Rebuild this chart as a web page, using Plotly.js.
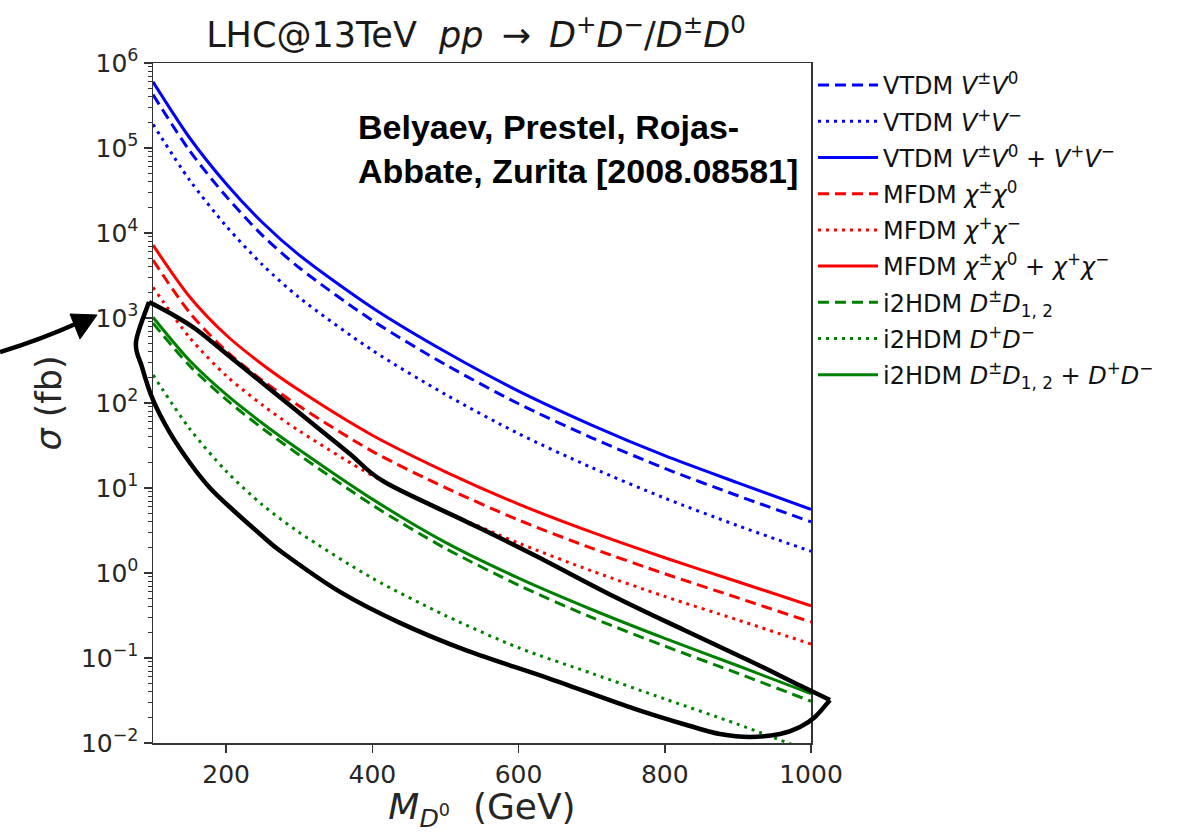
<!DOCTYPE html>
<html><head><meta charset="utf-8">
<script src="https://cdn.plot.ly/plotly-3.0.1.min.js"></script>
<style>html,body{margin:0;padding:0;background:#fff}#chart{width:1179px;height:833px}</style>
</head><body><div id="chart"></div>
<script>
// ---- data (σ in fb vs M_D0 in GeV) ----
const massGeV = [100,150,200,250,300,400,500,600,700,800,900,1000];

const vtdmChargedNeutral = [4.25e5,9.3e4,2.7e4,9.3e3,3.9e3,935,283,98,39,17,8.1,4.0];
const vtdmChargedPair    = [1.9e5,4.2e4,1.21e4,4.2e3,1.74e3,417,126,43.6,17.4,7.6,3.6,1.8];
const vtdmTotal          = [6.0e5,1.32e5,3.8e4,1.32e4,5.5e3,1.32e3,400,138,55,24,11.5,5.6];

const mfdmChargedNeutral = [4.8e3,1.16e3,410,183,92,27,10.1,4.2,1.96,0.98,0.51,0.265];
const mfdmChargedPair    = [2.3e3,590,210,94,47,14,5.3,2.25,1.06,0.53,0.28,0.146];
const mfdmTotal          = [7.2e3,1.78e3,631,282,141,41.7,15.5,6.46,3.02,1.51,0.79,0.41];

const i2hdmChargedNeutral = [871,275,110,50,24.5,6.3,1.95,0.72,0.30,0.138,0.066,0.031];
const i2hdmChargedPair    = [214,50,15.8,6.3,3.0,0.87,0.316,0.132,0.066,0.033,0.0166,0.0079];
const i2hdmTotal          = [1020,316,126,57.5,28.2,7.4,2.29,0.87,0.372,0.17,0.081,0.038];

const seriesNames = [
  'VTDM <i>V</i><sup>±</sup><i>V</i><sup>0</sup>',
  'VTDM <i>V</i><sup>+</sup><i>V</i><sup>−</sup>',
  'VTDM <i>V</i><sup>±</sup><i>V</i><sup>0</sup> + <i>V</i><sup>+</sup><i>V</i><sup>−</sup>',
  'MFDM <i>χ</i><sup>±</sup><i>χ</i><sup>0</sup>',
  'MFDM <i>χ</i><sup>+</sup><i>χ</i><sup>−</sup>',
  'MFDM <i>χ</i><sup>±</sup><i>χ</i><sup>0</sup> + <i>χ</i><sup>+</sup><i>χ</i><sup>−</sup>',
  'i2HDM <i>D</i><sup>±</sup><i>D</i><sub>1, 2</sub>',
  'i2HDM <i>D</i><sup>+</sup><i>D</i><sup>−</sup>',
  'i2HDM <i>D</i><sup>±</sup><i>D</i><sub>1, 2</sub> + <i>D</i><sup>+</sup><i>D</i><sup>−</sup>'
];

const yTickVals  = [1e-2,1e-1,1e0,1e1,1e2,1e3,1e4,1e5,1e6];
const yTickText  = ['10<sup>−2</sup>','10<sup>−1</sup>','10<sup>0</sup>','10<sup>1</sup>','10<sup>2</sup>','10<sup>3</sup>','10<sup>4</sup>','10<sup>5</sup>','10<sup>6</sup>'];
const xTickVals  = [200,400,600,800,1000];

// hand-drawn highlight contour (annotation), in (GeV, fb)
const contourUpperMass  = [94.53,130.09,160.18,209.42,255.93,324.32,369.45,417.33,529.48,621.13,731.91,826.29,917.93,984.95,1025.98];
const contourUpperSigma = [1542,1056,722.5,327,155.6,51.9,25.2,11.67,3.99,1.63,0.522,0.2134,0.0910,0.0474,0.0321];
const contourLowerMass  = [1025.98,1005.46,984.95,957.60,916.57,875.53,834.50,757.91,643.0,529.48,437.84,355.77,277.81,246.35,209.42,177.96,150.61,123.25,100.0,84.95,76.75,94.53];
const contourLowerSigma = [0.0321,0.02022,0.01542,0.01276,0.01176,0.01276,0.01585,0.02540,0.05700,0.1220,0.2590,0.5990,1.719,2.876,5.51,10.0,19.68,44.4,108.5,265.2,521.9,1542];

// ---- styling ----
const BLUE='#0000ff', RED='#ff0000', GREEN='#008000';
const DASH='11px,6px', DOT='3px,5px';
const styles = [
  [BLUE,DASH],[BLUE,DOT],[BLUE,'solid'],
  [RED,DASH],[RED,DOT],[RED,'solid'],
  [GREEN,DASH],[GREEN,DOT],[GREEN,'solid']
];
const seriesData = [vtdmChargedNeutral,vtdmChargedPair,vtdmTotal,mfdmChargedNeutral,mfdmChargedPair,mfdmTotal,i2hdmChargedNeutral,i2hdmChargedPair,i2hdmTotal];

const traces = seriesData.map((ys,i)=>({
  x: massGeV, y: ys, type:'scatter', mode:'lines', name: seriesNames[i],
  legendgroup: 'g'+i,
  line:{color:styles[i][0], dash:styles[i][1], width:3, shape:'spline', smoothing:0.8}
}));

const XMIN=100, XMAX=1000, LMIN=-2, LMAX=6;
function toPaper(m,s){ return [(m-XMIN)/(XMAX-XMIN), (Math.log10(s)-LMIN)/(LMAX-LMIN)]; }
function smoothPath(ms, ss){
  const p = ms.map((m,i)=>toPaper(m,ss[i]));
  let d = 'M'+p[0][0].toFixed(5)+','+p[0][1].toFixed(5);
  for(let i=0;i<p.length-1;i++){
    const p0 = p[Math.max(0,i-1)], p1=p[i], p2=p[i+1], p3=p[Math.min(p.length-1,i+2)];
    const c1=[p1[0]+(p2[0]-p0[0])/6, p1[1]+(p2[1]-p0[1])/6];
    const c2=[p2[0]-(p3[0]-p1[0])/6, p2[1]-(p3[1]-p1[1])/6];
    d += ' C'+c1[0].toFixed(5)+','+c1[1].toFixed(5)+' '+c2[0].toFixed(5)+','+c2[1].toFixed(5)+' '+p2[0].toFixed(5)+','+p2[1].toFixed(5);
  }
  return d;
}

// minor log ticks
const minorVals=[];
for(let k=LMIN;k<LMAX;k++){ for(let m=2;m<=9;m++) minorVals.push(m*Math.pow(10,k)); }

// plot geometry (px)
const W=1179,H=833,ML=153,MR=368,MT=63,MB=90;
const PW=W-ML-MR, PH=H-MT-MB;
function pxToPaper(px,py){ return [(px-ML)/PW, (H-MB-py)/PH]; }
const arrowStart = pxToPaper(0,352), arrowCtrl = pxToPaper(40,340), arrowEnd = pxToPaper(80,322);
const headTip = pxToPaper(97,315), headA = pxToPaper(70,314), headB = pxToPaper(80,339);

const FONT='DejaVu Sans';
const TS='\u2009';
const layout = {
  width:W, height:H,
  margin:{l:ML,r:MR,t:MT,b:MB,autoexpand:false},
  paper_bgcolor:'#fff', plot_bgcolor:'#fff',
  font:{family:FONT, color:'#262626'},
  title:{text:'LHC@13TeV  <i>pp</i> '+TS+'→'+TS+' <i>D</i><sup>+</sup><i>D</i><sup>−</sup>/<i>D</i><sup>±</sup><i>D</i><sup>0</sup>',
    font:{family:FONT,size:35,color:'#1a1a1a'}, x:(476-ML)/PW, xref:'paper', xanchor:'center', y:1-35/H, yref:'container', yanchor:'middle'},
  xaxis:{type:'linear', range:[XMIN,XMAX], tickvals:xTickVals, ticks:'outside', ticklen:8, tickwidth:1.5, tickcolor:'#333',
    showline:true, linecolor:'#333', linewidth:1.5, mirror:true, showgrid:false, zeroline:false,
    tickfont:{family:FONT,size:25,color:'#262626'},
    title:{text:'<i>M</i><sub><i>D</i><sup>0</sup></sub>  (GeV)', font:{family:FONT,size:36,color:'#262626'}, standoff:4}},
  yaxis:{type:'log', range:[LMIN,LMAX], tickmode:'array', tickvals:yTickVals, ticktext:yTickText, ticks:'outside', ticklen:8, tickwidth:1.5, tickcolor:'#333',
    minor:{tickmode:'array', tickvals:minorVals, ticks:'outside', ticklen:4, tickwidth:1, tickcolor:'#333', showgrid:false},
    showline:true, linecolor:'#333', linewidth:1.5, mirror:true, showgrid:false, zeroline:false,
    tickfont:{family:FONT,size:25,color:'#262626'},
    title:{text:'<i>σ</i> (fb)', font:{family:FONT,size:35,color:'#262626'}, standoff:8}},
  legend:{x:1.003, xanchor:'left', y:1.0, yanchor:'top', bgcolor:'rgba(0,0,0,0)', borderwidth:0,
    font:{family:FONT,size:24,color:'#111'}, tracegroupgap:2, itemwidth:60},
  shapes:[
    {type:'path', xref:'paper', yref:'paper', path: smoothPath(contourUpperMass,contourUpperSigma), line:{color:'#000',width:4.5}},
    {type:'path', xref:'paper', yref:'paper', path: smoothPath(contourLowerMass,contourLowerSigma), line:{color:'#000',width:4.5}},
    {type:'path', xref:'paper', yref:'paper', path:'M'+arrowStart.join(',')+' Q'+arrowCtrl.join(',')+' '+arrowEnd.join(','), line:{color:'#000',width:4.5}},
    {type:'path', xref:'paper', yref:'paper', path:'M'+headTip.join(',')+' L'+headA.join(',')+' L'+headB.join(',')+' Z', line:{color:'#000',width:1}, fillcolor:'#000'}
  ],
  annotations:[
    {text:'<b>Belyaev, Prestel, Rojas-</b>', xref:'paper', yref:'paper', x:(356-ML)/PW, y:(H-MB-127)/PH, xanchor:'left', yanchor:'middle', showarrow:false,
      font:{family:'Liberation Sans',size:34,color:'#000'}},
    {text:'<b>Abbate, Zurita [2008.08581]</b>', xref:'paper', yref:'paper', x:(356-ML)/PW, y:(H-MB-171)/PH, xanchor:'left', yanchor:'middle', showarrow:false,
      font:{family:'Liberation Sans',size:34,color:'#000'}}
  ]
};

Plotly.newPlot('chart', traces, layout, {staticPlot:true, displayModeBar:false});
</script>
</body></html>
